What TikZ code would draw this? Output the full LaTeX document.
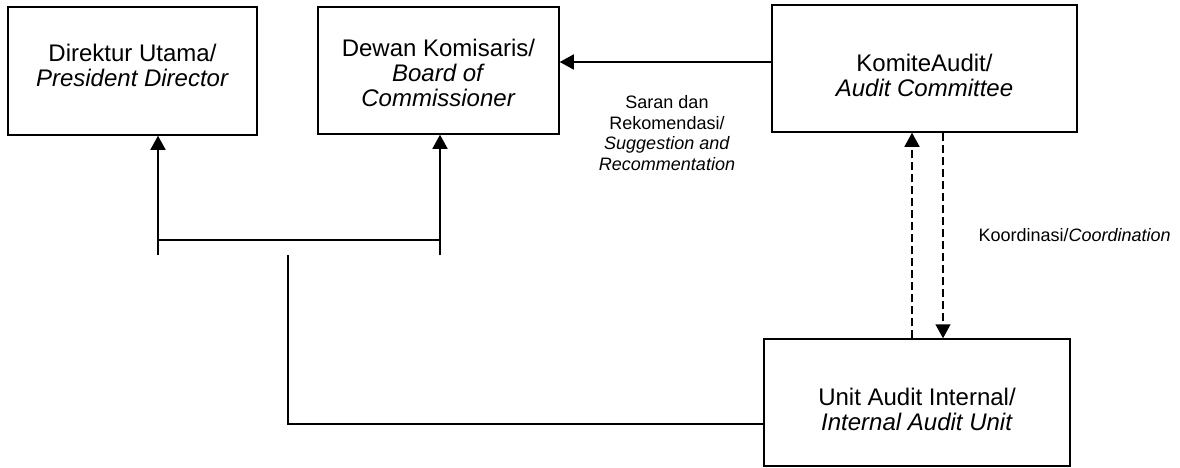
\documentclass[tikz,border=0pt]{standalone}
\usepackage{fontspec}
\setmainfont{Liberation Sans}
\usetikzlibrary{positioning,arrows.meta}

\begin{document}
\begin{tikzpicture}[x=1pt, y=-1pt,
  unit/.style={draw, line width=1.5pt, inner sep=0pt, minimum height=127pt},
  caption/.style={font=\fontsize{24}{25}\selectfont, align=center},
  arr/.style={-{Triangle[length=14pt,width=15pt]}, line width=1.5pt},
  link/.style={line width=1.3pt},
  dasharr/.style={arr, dash pattern=on 8pt off 4pt},
  note/.style={font=\fontsize{18}{20.5}\selectfont, align=center}
]
  \useasboundingbox (0,0) rectangle (1180,468);

  % Boxes
  \node[unit, minimum width=249pt, minimum height=128pt,
        label={[caption, yshift=6pt]center:{Direktur Utama/\\\textit{President Director}}}]
        (dirut) at (132.5,71) {};
  \node[unit, minimum width=241pt,
        label={[caption, yshift=-2pt]center:{Dewan Komisaris/\\\textit{Board of}\\\textit{Commissioner}}}]
        (dekom) at (438.5,70.5) {};
  \node[unit, minimum width=305pt,
        label={[caption, yshift=-7pt]center:{KomiteAudit/\\\textit{Audit Committee}}}]
        (kom) at (924.5,68.5) {};
  \node[unit, minimum width=306pt,
        label={[caption, yshift=-7pt]center:{Unit Audit Internal/\\\textit{Internal Audit Unit}}}]
        (uai) at (917,402.5) {};

  % Suggestion to the board
  \coordinate (sug) at ([yshift=6.5pt]kom.west);
  \draw[arr] (sug) -- (sug -| dekom.east);
  \node[note] (saran) at (667,133)
    {Saran dan\\Rekomendasi/\\\textit{Suggestion and}\\\textit{Recommentation}};

  % Reporting lines
  \coordinate (dirFoot) at (158,255);
  \coordinate (dekFoot) at (440,255);
  \coordinate (barL) at (158,240);
  \coordinate (barR) at (440,240);
  \draw[arr] (dirFoot) -- (dirFoot |- dirut.south);
  \draw[arr] (dekFoot) -- (dekFoot |- dekom.south);
  \draw[link] (barL) -- (barR);
  \coordinate (spine) at (288,255);
  \draw[link] (spine) |- ([yshift=-21.5pt]uai.west);

  % Coordination
  \coordinate (coUp) at (912,0);
  \coordinate (coDn) at (943,0);
  \draw[dasharr] (coUp |- uai.north) -- (coUp |- kom.south);
  \draw[dasharr] (coDn |- kom.south) -- (coDn |- uai.north);
  \node[note, anchor=west] (koord) at (975,235) {Koordinasi/\textit{Coordination}};
\end{tikzpicture}
\end{document}
